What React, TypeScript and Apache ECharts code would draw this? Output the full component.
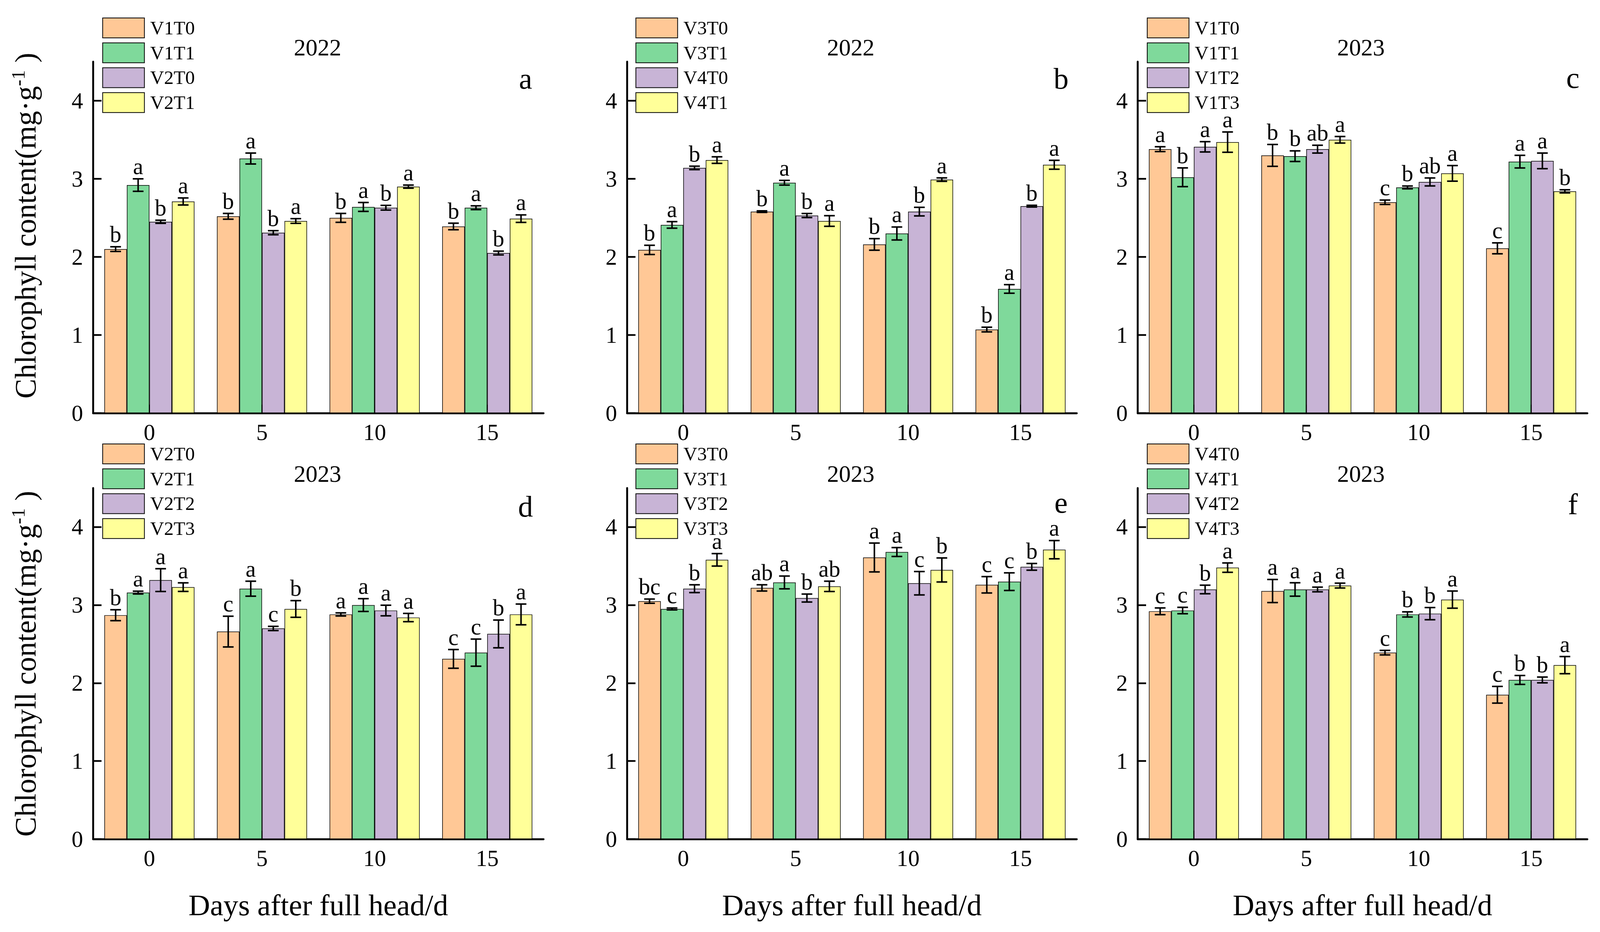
import React, { useEffect, useRef } from 'react';
import * as echarts from 'echarts';

const FONT = '"Liberation Serif", "Times New Roman", serif';
const REF_W = 4177;
const REF_H = 2387;

const CATEGORIES = ['0', '5', '10', '15'];
const COLORS = ['#FFC896', '#7FD99B', '#C8B4D6', '#FFFF99'];
const Y_TICKS = [0, 1, 2, 3, 4];

// Panel a (2022)
const A_NAMES = ['V1T0', 'V1T1', 'V2T0', 'V2T1'];
const A_VALUES = [[2.10, 2.52, 2.50, 2.39], [2.92, 3.26, 2.64, 2.63], [2.45, 2.31, 2.63, 2.05], [2.71, 2.46, 2.90, 2.49]];
const A_ERRORS = [[0.03, 0.037, 0.057, 0.042], [0.08, 0.07, 0.057, 0.024], [0.02, 0.026, 0.03, 0.024], [0.045, 0.03, 0.02, 0.048]];
const A_LETTERS = [['b', 'b', 'b', 'b'], ['a', 'a', 'a', 'a'], ['b', 'b', 'b', 'b'], ['a', 'a', 'a', 'a']];

// Panel b (2022)
const B_NAMES = ['V3T0', 'V3T1', 'V4T0', 'V4T1'];
const B_VALUES = [[2.09, 2.58, 2.16, 1.07], [2.41, 2.95, 2.30, 1.59], [3.14, 2.53, 2.58, 2.65], [3.24, 2.46, 2.99, 3.18]];
const B_ERRORS = [[0.059, 0.01, 0.074, 0.03], [0.042, 0.03, 0.083, 0.055], [0.022, 0.026, 0.055, 0.011], [0.042, 0.068, 0.022, 0.057]];
const B_LETTERS = [['b', 'b', 'b', 'b'], ['a', 'a', 'a', 'a'], ['b', 'b', 'b', 'b'], ['a', 'a', 'a', 'a']];

// Panel c (2023)
const C_NAMES = ['V1T0', 'V1T1', 'V1T2', 'V1T3'];
const C_VALUES = [[3.38, 3.30, 2.70, 2.11], [3.02, 3.29, 2.89, 3.22], [3.41, 3.38, 2.96, 3.23], [3.47, 3.50, 3.07, 2.84]];
const C_ERRORS = [[0.031, 0.14, 0.028, 0.07], [0.12, 0.068, 0.018, 0.081], [0.066, 0.05, 0.051, 0.10], [0.13, 0.042, 0.10, 0.02]];
const C_LETTERS = [['a', 'b', 'c', 'c'], ['b', 'b', 'b', 'a'], ['a', 'ab', 'ab', 'a'], ['a', 'a', 'a', 'b']];

// Panel d (2023)
const D_NAMES = ['V2T0', 'V2T1', 'V2T2', 'V2T3'];
const D_VALUES = [[2.87, 2.66, 2.88, 2.31], [3.16, 3.21, 3.00, 2.39], [3.32, 2.70, 2.93, 2.63], [3.23, 2.95, 2.84, 2.88]];
const D_ERRORS = [[0.07, 0.197, 0.02, 0.12], [0.018, 0.096, 0.082, 0.174], [0.146, 0.027, 0.068, 0.178], [0.055, 0.107, 0.053, 0.133]];
const D_LETTERS = [['b', 'c', 'a', 'c'], ['a', 'a', 'a', 'c'], ['a', 'c', 'a', 'b'], ['a', 'b', 'a', 'a']];

// Panel e (2023)
const E_NAMES = ['V3T0', 'V3T1', 'V3T2', 'V3T3'];
const E_VALUES = [[3.05, 3.22, 3.61, 3.26], [2.95, 3.29, 3.68, 3.30], [3.21, 3.09, 3.28, 3.49], [3.58, 3.24, 3.45, 3.71]];
const E_ERRORS = [[0.027, 0.04, 0.185, 0.105], [0.012, 0.082, 0.057, 0.113], [0.05, 0.051, 0.15, 0.043], [0.08, 0.066, 0.154, 0.117]];
const E_LETTERS = [['bc', 'ab', 'a', 'c'], ['c', 'a', 'a', 'c'], ['b', 'b', 'c', 'b'], ['a', 'ab', 'b', 'a']];

// Panel f (2023)
const F_NAMES = ['V4T0', 'V4T1', 'V4T2', 'V4T3'];
const F_VALUES = [[2.92, 3.18, 2.39, 1.85], [2.93, 3.20, 2.88, 2.04], [3.20, 3.20, 2.89, 2.04], [3.48, 3.25, 3.07, 2.23]];
const F_ERRORS = [[0.043, 0.148, 0.029, 0.107], [0.041, 0.086, 0.033, 0.057], [0.055, 0.03, 0.078, 0.037], [0.06, 0.031, 0.11, 0.11]];
const F_LETTERS = [['c', 'a', 'c', 'c'], ['c', 'a', 'b', 'b'], ['b', 'a', 'b', 'b'], ['a', 'a', 'a', 'a']];

const PANELS = [
  { names: A_NAMES, values: A_VALUES, errors: A_ERRORS, letters: A_LETTERS, year: '2022', tag: 'a' },
  { names: B_NAMES, values: B_VALUES, errors: B_ERRORS, letters: B_LETTERS, year: '2022', tag: 'b' },
  { names: C_NAMES, values: C_VALUES, errors: C_ERRORS, letters: C_LETTERS, year: '2023', tag: 'c' },
  { names: D_NAMES, values: D_VALUES, errors: D_ERRORS, letters: D_LETTERS, year: '2023', tag: 'd' },
  { names: E_NAMES, values: E_VALUES, errors: E_ERRORS, letters: E_LETTERS, year: '2023', tag: 'e' },
  { names: F_NAMES, values: F_VALUES, errors: F_ERRORS, letters: F_LETTERS, year: '2023', tag: 'f' },
];

const LAYOUT = [
  { left: 243, top: 158, width: 1176, height: 900, legendLeft: 267, legendTop: 45, titleX: 829, titleY: 121, tagX: 1372, tagY: 228 },
  { left: 1637, top: 158, width: 1174, height: 900, legendLeft: 1659, legendTop: 45, titleX: 2221, titleY: 121, tagX: 2770, tagY: 228 },
  { left: 2970, top: 158, width: 1174, height: 900, legendLeft: 2994, legendTop: 45, titleX: 3553, titleY: 121, tagX: 4106, tagY: 226 },
  { left: 243, top: 1250, width: 1176, height: 899, legendLeft: 267, legendTop: 1136, titleX: 829, titleY: 1213, tagX: 1372, tagY: 1324 },
  { left: 1637, top: 1250, width: 1174, height: 899, legendLeft: 1659, legendTop: 1136, titleX: 2221, titleY: 1213, tagX: 2770, tagY: 1314 },
  { left: 2970, top: 1250, width: 1174, height: 899, legendLeft: 2994, legendTop: 1136, titleX: 3553, titleY: 1213, tagX: 4106, tagY: 1318 },
];

function buildOption(W: number, H: number) {
  const sx = W / REF_W;
  const sy = H / REF_H;
  const ss = Math.min(sx, sy);
  const X = (v: number) => v * sx;
  const Y = (v: number) => v * sy;
  const S = (v: number) => v * ss;

  const grid: any[] = [];
  const xAxis: any[] = [];
  const yAxis: any[] = [];
  const legend: any[] = [];
  const series: any[] = [];
  const graphic: any[] = [];

  PANELS.forEach((p, i) => {
    const L = LAYOUT[i];
    grid.push({ left: X(L.left), top: Y(L.top), width: X(L.width), height: Y(L.height), containLabel: false });
    xAxis.push({
      type: 'category',
      gridIndex: i,
      data: CATEGORIES,
      boundaryGap: true,
      axisLine: { show: true, lineStyle: { color: '#000', width: S(5) } },
      axisTick: { show: true, inside: true, alignWithLabel: true, length: S(22), lineStyle: { color: '#000', width: S(4.5) } },
      axisLabel: { color: '#000', fontSize: S(60), fontFamily: FONT, margin: S(20) },
      splitLine: { show: false },
    });
    yAxis.push({
      type: 'value',
      gridIndex: i,
      min: 0,
      max: 4.5,
      interval: 1,
      axisLine: { show: true, lineStyle: { color: '#000', width: S(5) } },
      axisTick: { show: true, inside: true, length: S(22), customValues: Y_TICKS, lineStyle: { color: '#000', width: S(4.5) } },
      axisLabel: { color: '#000', fontSize: S(60), fontFamily: FONT, margin: S(26), customValues: Y_TICKS },
      splitLine: { show: false },
    });
    legend.push({
      orient: 'vertical',
      left: X(L.legendLeft),
      top: Y(L.legendTop),
      padding: 0,
      itemGap: S(11),
      itemWidth: S(109),
      itemHeight: S(52),
      icon: 'rect',
      selectedMode: false,
      data: p.names.map((name, j) => ({
        name,
        itemStyle: { color: COLORS[j], borderColor: '#000', borderWidth: S(2) },
      })),
      itemStyle: { borderColor: '#000', borderWidth: S(2) },
      textStyle: { color: '#000', fontSize: S(50), fontFamily: FONT, lineHeight: S(52), padding: [0, 0, 0, S(10)] },
    });
    p.names.forEach((name, j) => {
      series.push({
        type: 'bar',
        name,
        xAxisIndex: i,
        yAxisIndex: i,
        data: p.values[j],
        barGap: '0%',
        barCategoryGap: '20%',
        itemStyle: { color: COLORS[j], borderColor: '#000', borderWidth: S(1.5) },
        emphasis: { disabled: true },
        z: 2,
      });
    });
    const errData: any[] = [];
    const errLabels: string[] = [];
    for (let c = 0; c < CATEGORIES.length; c++) {
      for (let j = 0; j < 4; j++) {
        errData.push([c, j, p.values[j][c], p.errors[j][c]]);
        errLabels.push(p.letters[j][c]);
      }
    }
    series.push({
      type: 'custom',
      xAxisIndex: i,
      yAxisIndex: i,
      data: errData,
      encode: { x: 0, y: 2 },
      z: 5,
      silent: true,
      renderItem: (params: any, api: any) => {
        const c = api.value(0);
        const j = api.value(1);
        const v = api.value(2);
        const e = api.value(3);
        const band = api.size([1, 0])[0];
        const bw = (band * 0.8) / 4;
        const base = api.coord([c, v]);
        const x = base[0] + (j - 1.5) * bw;
        const yTop = api.coord([c, v + e])[1];
        const yBot = api.coord([c, v - e])[1];
        const cap = S(14);
        const stroke = { stroke: '#000', lineWidth: S(4) };
        return {
          type: 'group',
          children: [
            { type: 'line', shape: { x1: x, y1: yTop, x2: x, y2: yBot }, style: stroke },
            { type: 'line', shape: { x1: x - cap, y1: yTop, x2: x + cap, y2: yTop }, style: stroke },
            { type: 'line', shape: { x1: x - cap, y1: yBot, x2: x + cap, y2: yBot }, style: stroke },
            {
              type: 'text',
              x,
              y: yTop - S(2),
              style: {
                text: errLabels[params.dataIndex],
                textAlign: 'center',
                textVerticalAlign: 'bottom',
                fontSize: S(60),
                fontFamily: FONT,
                fill: '#000',
              },
            },
          ],
        };
      },
    });

    graphic.push({
      type: 'text',
      x: X(L.titleX),
      y: Y(L.titleY),
      style: { text: p.year, textAlign: 'center', textVerticalAlign: 'middle', fontSize: S(62), fontFamily: FONT, fill: '#000' },
    });
    graphic.push({
      type: 'text',
      x: X(L.tagX),
      y: Y(L.tagY) + S(12),
      style: { text: p.tag, textAlign: 'center', textVerticalAlign: 'bottom', fontSize: S(78), fontFamily: FONT, fill: '#000' },
    });
    if (i % 3 === 0) {
      graphic.push({
        type: 'text',
        x: X(67),
        y: Y(i === 0 ? 578 : 1700),
        rotation: Math.PI / 2,
        style: {
          text: 'Chlorophyll content(mg·g{sup|-1} )',
          textAlign: 'center',
          textVerticalAlign: 'middle',
          fontSize: S(78),
          fontFamily: FONT,
          fill: '#000',
          rich: {
            sup: { fontSize: S(50), fontFamily: FONT, fill: '#000', verticalAlign: 'top', lineHeight: S(90) },
          },
        },
      });
    }
    if (i >= 3) {
      graphic.push({
        type: 'text',
        x: X(L.left + L.width / 2),
        y: Y(2318),
        style: { text: 'Days after full head/d', textAlign: 'center', textVerticalAlign: 'middle', fontSize: S(78), fontFamily: FONT, fill: '#000' },
      });
    }
  });

  return {
    animation: false,
    backgroundColor: '#fff',
    textStyle: { fontFamily: FONT },
    grid,
    xAxis,
    yAxis,
    legend,
    series,
    graphic,
  };
}

export default function App() {
  const ref = useRef<HTMLDivElement>(null);
  useEffect(() => {
    const el = ref.current!;
    const W = el.clientWidth || REF_W;
    const H = el.clientHeight || REF_H;
    const chart = echarts.init(el, null, { renderer: 'svg', width: W, height: H });
    chart.setOption(buildOption(W, H) as any);
    return () => chart.dispose();
  }, []);
  return (
    <div
      ref={ref}
      style={{ position: 'fixed', left: 0, top: 0, width: '100vw', height: '100vh', background: '#fff', overflow: 'hidden' }}
    />
  );
}
